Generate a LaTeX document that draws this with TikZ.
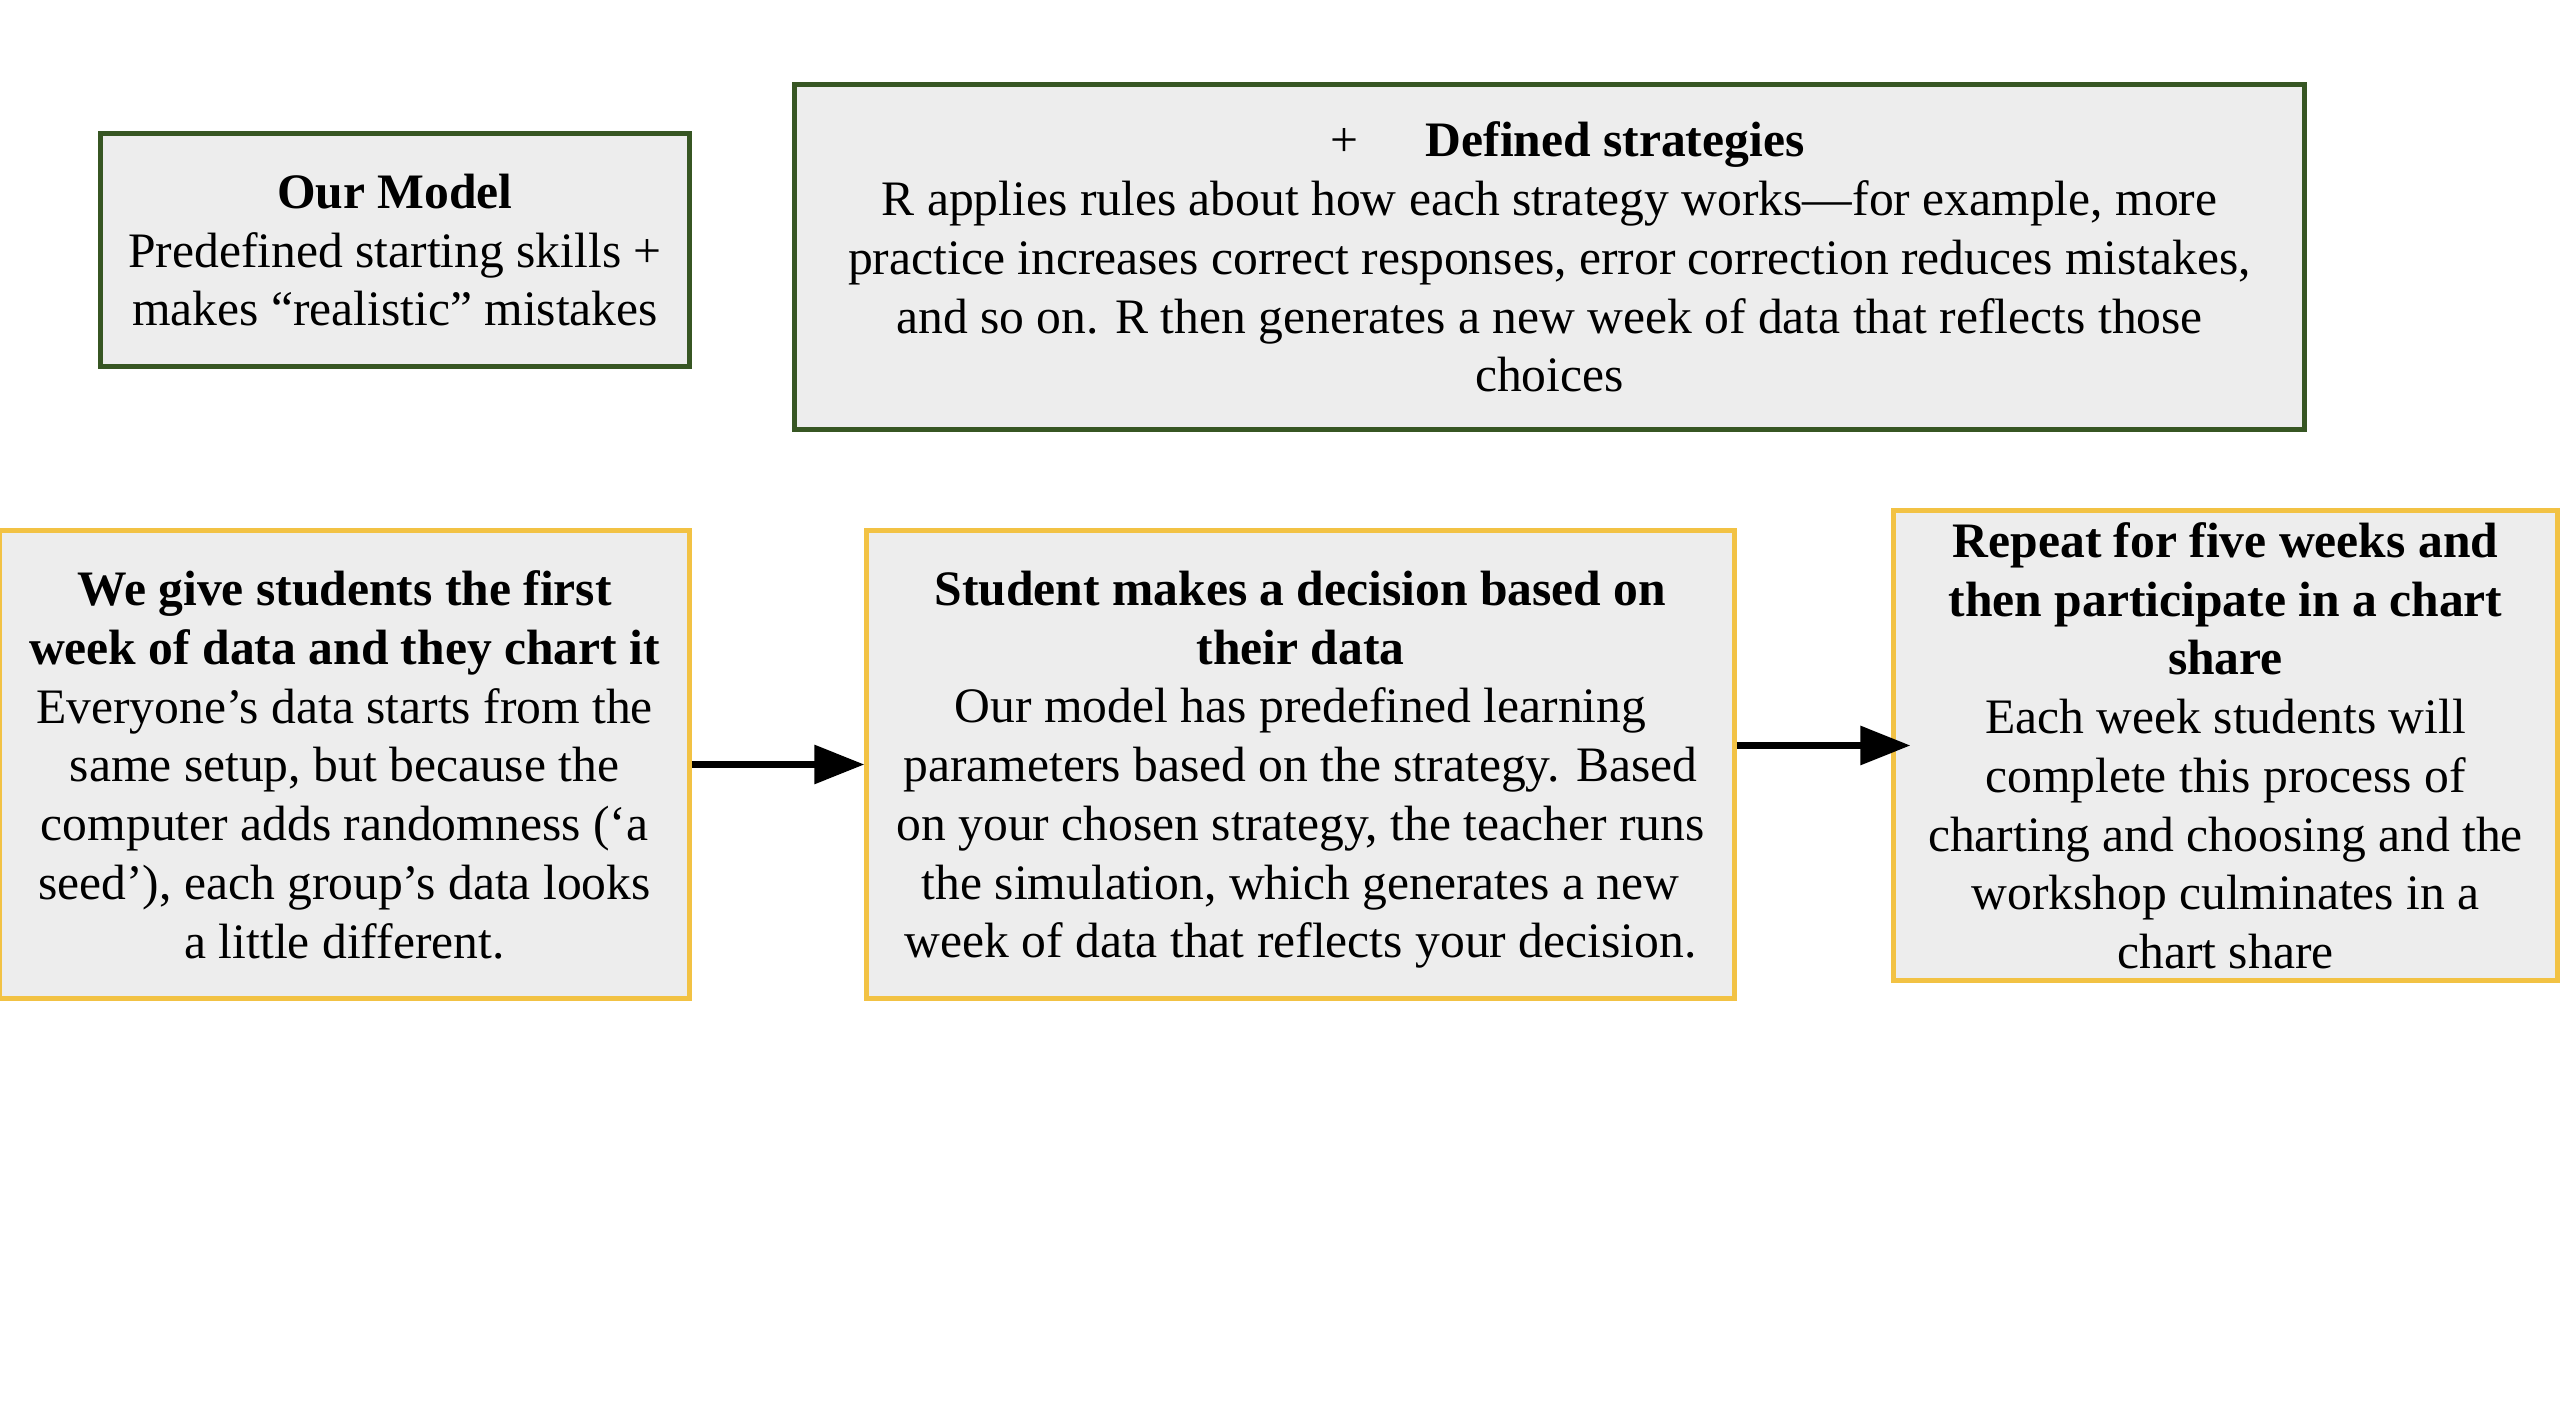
\documentclass[tikz,border=0pt]{standalone}
\usepackage{fontspec}
\setmainfont{Liberation Serif}
\usetikzlibrary{arrows.meta,positioning}
\definecolor{boxfill}{HTML}{EDEDED}
\definecolor{modelgreen}{HTML}{375623}
\definecolor{stagegold}{HTML}{F2C244}
\tikzset{
    infobox/.style={
        draw=modelgreen,
        fill=boxfill,
        line width=1.4pt,
        align=center,
        inner sep=0pt,
        text depth=-1.8pt,
        font=\fontsize{14.1}{16.7}\selectfont
    },
    stagebox/.style={
        infobox,
        draw=stagegold
    },
    flowarrow/.style={
        -{Triangle[length=0.5cm,width=0.38cm]},
        line width=1.8pt,
        black
    }
}
\begin{document}
\begin{tikzpicture}[x=0.01cm,y=-0.01cm]
    \useasboundingbox (0,0) rectangle (2560,1404);
    \node[infobox, minimum width=5.88cm, minimum height=2.32cm] (model) at (395,250)
        {\textbf{Our Model}\\Predefined starting skills +\\makes “realistic” mistakes};
    \node[infobox, minimum width=15.09cm, minimum height=3.44cm] (strategies) at (1549.5,257)
        {\hspace*{0.36cm}+\hspace{0.67cm}\textbf{Defined strategies}\\
        R applies rules about how each strategy works—for example, more\\
        practice increases correct responses, error correction reduces mistakes,\\
        and so on. R then generates a new week of data that reflects those\\
        choices};
    \node[stagebox, minimum width=6.89cm, minimum height=4.67cm] (first) at (344.5,764.5)
        {\textbf{We give students the first}\\
        \textbf{week of data and they chart it}\\
        Everyone’s data starts from the\\
        same setup, but because the\\
        computer adds randomness (‘a\\
        seed’), each group’s data looks\\
        a little different.};
    \node[stagebox, minimum width=8.67cm, minimum height=4.67cm] (decide) at (1300.5,764.5)
        {\textbf{Student makes a decision based on}\\
        \textbf{their data}\\
        Our model has predefined learning\\
        parameters based on the strategy. Based\\
        on your chosen strategy, the teacher runs\\
        the simulation, which generates a new\\
        week of data that reflects your decision.};
    \node[stagebox, minimum width=6.63cm, minimum height=4.69cm] (repeat) at (2225.5,745.5)
        {\textbf{Repeat for five weeks and}\\
        \textbf{then participate in a chart}\\
        \textbf{share}\\
        Each week students will\\
        complete this process of\\
        charting and choosing and the\\
        workshop culminates in a\\
        chart share};
    \draw[flowarrow] (first.east) -- (decide.west);
    \draw[flowarrow, shorten >=-0.19cm] (decide.east |- repeat.west) -- (repeat.west);
\end{tikzpicture}
\end{document}
